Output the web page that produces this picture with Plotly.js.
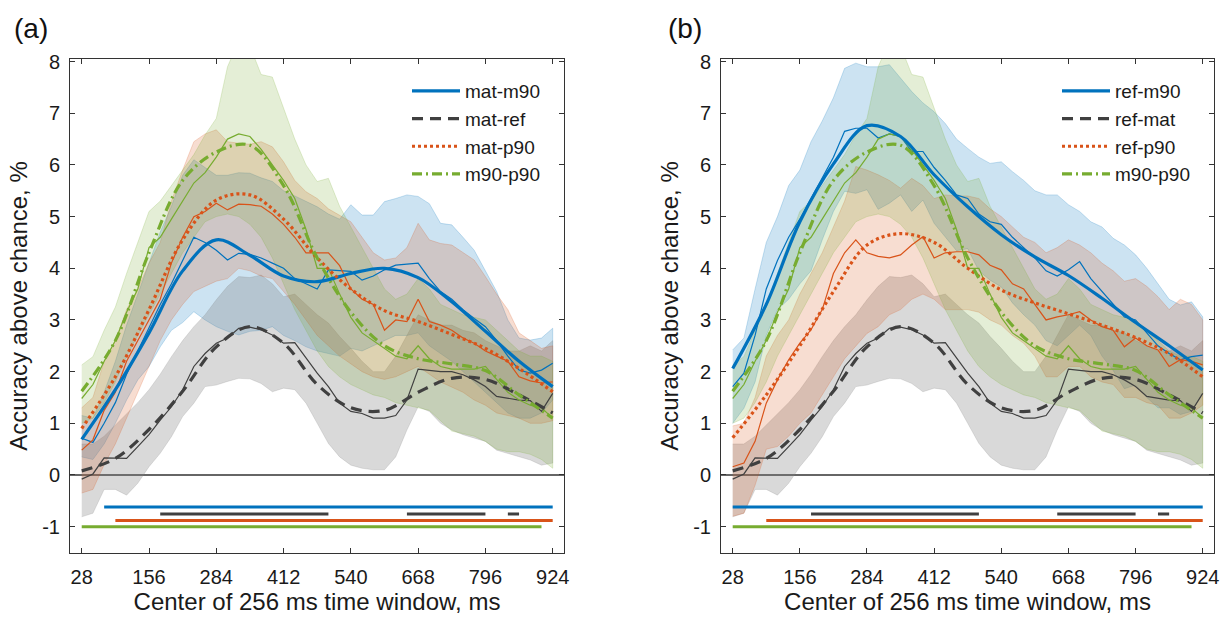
<!DOCTYPE html>
<html>
<head>
<meta charset="utf-8">
<script src="https://cdn.plot.ly/plotly-3.0.1.min.js"></script>
<style>html,body{margin:0;padding:0;background:#fff;}#chart{width:1230px;height:621px;}</style>
</head>
<body>
<div id="chart"></div>
<script>
// ---------- Data ----------
// window centres (ms), raw series sampled every 21.33 ms
const xRaw = [28,49.33,70.67,92,113.33,134.67,156,177.33,198.67,220,241.33,262.67,284,305.33,326.67,348,369.33,390.67,412,433.33,454.67,476,497.33,518.67,540,561.33,582.67,604,625.33,646.67,668,689.33,710.67,732,753.33,774.67,796,817.33,838.67,860,881.33,902.67,924];
// smoothed curves sampled every 64 ms
const xSmooth = [28,92,156,220,284,348,412,476,540,604,668,732,796,860,924];
const xTicks = [28,156,284,412,540,668,796,924];
const yTicks = [-1,0,1,2,3,4,5,6,7,8];

// shared series (identical in both panels)
const grayRaw = [-0.08,0.02,0.33,0.33,0.32,0.55,0.78,1.06,1.32,1.65,2.1,2.35,2.55,2.65,2.84,2.86,2.81,2.71,2.55,2.56,2.26,1.97,1.71,1.39,1.23,1.19,1.10,1.10,1.15,1.45,2.05,2.02,2.0,2.0,1.94,1.84,1.71,1.52,1.48,1.45,1.44,1.23,1.58];
const graySmooth = [0.08,0.32,0.88,1.62,2.48,2.87,2.55,1.75,1.3,1.25,1.6,1.87,1.85,1.55,1.2];
const grayUpper = [0.6,0.6,0.75,0.97,1.19,1.4,1.65,1.95,2.29,2.6,2.87,3.1,3.39,3.65,3.84,3.82,3.87,3.7,3.45,3.5,3.3,3.1,2.94,2.68,2.45,2.2,2.0,2.0,2.3,2.7,3.1,3.0,2.9,2.9,2.8,2.75,2.6,2.5,2.4,2.4,2.5,2.4,2.6];
const grayLower = [-0.81,-0.74,-0.28,-0.28,-0.39,-0.16,0.16,0.42,0.74,1.13,1.39,1.71,1.74,1.81,1.87,1.86,1.77,1.61,1.68,1.65,1.39,1.0,0.61,0.35,0.19,0.13,0.1,0.1,0.35,0.87,1.32,1.23,1.0,0.87,0.78,0.71,0.65,0.48,0.42,0.35,0.29,0.19,0.23];

const greenRaw = [1.48,1.75,2.2,2.6,3.15,3.6,4.4,4.6,4.95,5.3,5.65,5.85,6.15,6.5,6.6,6.55,6.3,6.0,5.7,5.35,4.75,4.0,4.0,3.5,3.05,2.75,2.6,2.45,2.3,2.25,2.5,2.25,2.1,2.05,2.05,2.05,2.1,1.85,1.6,1.45,1.35,1.3,1.1];
const greenSmooth = [1.62,2.6,4.3,5.7,6.25,6.38,5.6,4.2,3.15,2.5,2.25,2.15,2.02,1.55,1.1];
const greenUpper = [2.13,2.29,2.8,3.25,3.9,4.5,5.1,5.3,5.6,5.9,6.2,6.58,6.9,7.9,8.4,8.3,7.75,7.7,7.1,6.5,6.0,5.68,5.74,5.2,4.8,4.4,4.0,3.6,3.4,3.5,3.8,3.6,3.3,3.2,3.1,3.05,3.0,2.8,2.6,2.4,2.3,2.3,2.2];
const greenLower = [1.0,1.1,1.4,1.8,2.3,2.7,3.1,3.5,3.9,4.3,4.6,4.9,5.0,5.05,5.0,4.85,4.6,4.2,3.7,3.2,2.8,2.4,2.1,1.9,1.75,1.65,1.55,1.5,1.4,1.35,1.3,1.25,1.05,0.85,0.8,0.75,0.65,0.5,0.45,0.45,0.4,0.3,0.13];

// panel (a)
const blueRawA = [0.71,0.63,1.0,1.4,1.95,2.4,2.85,3.3,3.7,4.15,4.6,4.5,4.35,4.16,4.29,4.27,4.2,4.1,4.0,3.8,3.7,3.6,3.97,3.95,3.94,3.77,3.85,3.97,4.06,4.08,4.1,3.8,3.55,3.4,3.2,3.03,2.87,2.6,2.3,2.03,1.97,2.03,2.16];
const blueSmoothA = [0.69,1.65,2.75,3.95,4.55,4.25,3.85,3.74,3.9,4.0,3.82,3.35,2.78,2.2,1.71];
const blueUpperA = [1.15,1.1,1.6,2.2,2.9,3.5,4.1,4.7,5.2,5.8,6.1,5.95,5.8,5.8,5.85,5.84,5.75,5.68,5.5,5.4,5.3,5.19,5.05,4.95,5.23,5.03,5.03,5.29,5.35,5.42,5.39,5.25,4.87,4.84,4.6,4.35,3.95,3.55,3.0,2.65,2.61,2.65,2.84];
const blueLowerA = [0.35,0.3,0.6,1.0,1.45,1.84,2.1,2.48,2.8,2.95,3.16,3.0,2.87,2.78,2.71,2.78,2.8,2.87,2.7,2.6,2.48,2.4,2.35,2.3,2.45,2.4,2.5,2.6,2.7,2.7,2.75,2.5,2.35,2.2,2.0,1.8,1.6,1.4,1.2,1.1,1.1,1.2,1.45];

const orangeRawA = [0.48,0.68,1.25,1.6,2.2,2.6,3.0,3.4,4.1,4.6,5.0,5.1,5.26,5.13,5.24,5.23,5.2,5.05,4.85,4.6,4.3,4.3,4.3,4.05,3.6,3.4,3.3,2.8,3.0,2.97,3.4,2.97,2.9,2.8,2.65,2.55,2.4,2.3,2.2,1.9,1.82,1.78,1.8];
const orangeSmoothA = [0.9,1.9,3.2,4.55,5.32,5.42,4.95,4.2,3.6,3.18,2.97,2.72,2.45,2.06,1.61];
const orangeUpperA = [1.3,1.5,2.2,2.6,3.2,3.6,4.1,4.5,5.3,5.9,6.45,6.6,6.68,6.45,6.42,6.4,6.45,6.35,6.06,5.7,5.48,5.35,5.15,5.03,4.9,4.6,4.3,4.16,4.2,4.4,4.87,4.55,4.48,4.45,4.3,4.16,3.84,3.5,3.2,2.75,2.6,2.45,2.5];
const orangeLowerA = [-0.35,-0.28,0.2,0.6,1.1,1.6,2.1,2.6,3.0,3.3,3.55,3.65,3.75,3.8,4.0,3.95,3.85,3.8,3.55,3.3,3.0,2.7,2.5,2.3,2.15,2.0,1.9,1.85,1.9,2.0,2.1,1.95,1.8,1.7,1.6,1.45,1.35,1.2,1.15,1.1,1.0,1.0,1.05];

// panel (b)
const blueRawB = [1.71,1.97,2.7,3.6,4.15,4.6,4.95,5.35,5.75,6.15,6.65,6.71,6.71,6.52,6.6,6.55,6.26,6.26,5.95,5.7,5.42,5.35,5.05,4.9,4.85,4.6,4.4,4.2,3.95,3.85,3.97,4.13,3.8,3.55,3.3,3.06,3.0,2.75,2.5,2.35,2.23,2.29,2.32];
const blueSmoothB = [2.06,3.3,4.9,6.02,6.76,6.55,5.81,5.19,4.65,4.22,3.86,3.42,2.95,2.5,2.03];
const blueUpperB = [2.42,2.65,3.6,4.5,5.0,5.6,5.9,6.45,6.85,7.3,7.87,7.97,7.9,7.9,7.94,7.68,7.42,7.2,7.03,6.8,6.5,6.32,6.15,6.03,6.06,5.87,5.7,5.5,5.42,5.42,5.23,5.1,4.9,4.8,4.58,4.45,4.26,4.0,3.7,3.4,3.29,3.35,3.06];
const blueLowerB = [1.0,1.29,1.8,2.7,3.2,3.4,3.7,3.95,4.55,5.1,5.49,5.45,5.52,5.14,5.26,5.42,5.1,5.32,4.87,4.6,4.34,4.38,3.95,3.77,3.64,3.33,3.1,2.9,2.6,2.5,2.7,2.9,2.7,2.3,2.02,1.67,1.74,1.5,1.3,1.3,1.17,1.23,1.58];

const orangeRawB = [0.16,0.23,0.65,1.39,1.84,2.23,2.55,2.81,3.2,3.9,4.3,4.55,4.3,4.23,4.2,4.26,4.45,4.61,4.2,4.3,4.32,4.32,4.26,4.06,3.97,3.7,3.6,3.3,3.0,3.06,3.1,3.16,3.0,2.87,2.8,2.48,2.65,2.5,2.42,2.1,2.23,2.2,2.13];
const orangeSmoothB = [0.72,1.55,2.5,3.55,4.45,4.67,4.5,4.0,3.58,3.33,3.12,2.9,2.66,2.35,1.9];
const orangeUpperB = [0.95,1.0,1.5,2.3,2.7,3.0,3.5,3.9,4.3,4.8,5.3,5.97,5.9,5.81,5.7,5.55,5.74,5.6,5.35,5.42,5.4,5.4,5.35,5.15,5.0,4.8,4.6,4.5,4.3,4.4,4.55,4.45,4.3,4.1,3.95,3.75,3.8,3.65,3.45,3.2,3.4,3.3,3.0];
const orangeLowerB = [-0.8,-0.74,-0.2,0.5,0.55,0.75,1.0,1.2,1.55,1.9,2.25,2.5,2.74,2.87,3.1,3.2,3.4,3.5,3.4,3.2,3.2,3.2,3.15,3.0,2.9,2.7,2.55,2.3,1.9,1.9,2.1,2.1,1.9,1.8,1.75,1.5,1.5,1.4,1.35,1.1,1.1,1.2,1.35];

// significance bars: [start, end] in ms, and their levels
const sigLevel = {blue: -0.62, gray: -0.755, orange: -0.88, green: -1.0};
const sigBlueA = [[70.67, 924]];
const sigBlueB = [[28, 924]];
const sigGray = [[177.33, 497.33], [646.67, 796], [838.67, 860]];
const sigOrange = [[92, 924]];
const sigGreen = [[28, 902.67]];

const namesA = ['mat-m90', 'mat-ref', 'mat-p90', 'm90-p90'];
const namesB = ['ref-m90', 'ref-mat', 'ref-p90', 'm90-p90'];

// ---------- Styling ----------
const FONT = 'Arial, "Liberation Sans", Helvetica, sans-serif';
const C = {blue: [0,114,189], gray: [64,64,64], orange: [217,83,25], green: [119,172,48]};
const BANDC = {blue: [0,114,189], gray: [128,128,128], orange: [217,83,25], green: [119,172,48]};
const BANDA = {blue: 0.2, gray: 0.3, orange: 0.2, green: 0.2};
const rgba = (c, a) => `rgba(${c[0]},${c[1]},${c[2]},${a})`;
const DASH = {blue: 'solid', gray: '11px,7px', orange: '3px,3px', green: '10px,4px,2px,4px'};

function bandTrace(up, lo, key, xa, ya) {
  return {x: xRaw.concat(xRaw.slice().reverse()), y: up.concat(lo.slice().reverse()),
    type: 'scatter', mode: 'lines', fill: 'toself', fillcolor: rgba(BANDC[key], BANDA[key]),
    line: {color: rgba(BANDC[key], 0.3), width: 0.7}, hoverinfo: 'skip', showlegend: false, xaxis: xa, yaxis: ya};
}
function rawTrace(y, key, xa, ya) {
  return {x: xRaw, y: y, type: 'scatter', mode: 'lines', line: {color: rgba(C[key], 1), width: 1.2},
    showlegend: false, xaxis: xa, yaxis: ya};
}
function smoothTrace(y, key, name, xa, ya, leg, rank) {
  return {x: xSmooth, y: y, type: 'scatter', mode: 'lines', name: name,
    line: {color: rgba(C[key], 1), width: 3.2, dash: DASH[key], shape: 'spline', smoothing: 1},
    xaxis: xa, yaxis: ya, legend: leg, legendrank: rank};
}
function sigTrace(segs, key, xa, ya) {
  const x = [], y = [];
  segs.forEach(s => { x.push(s[0], s[1], null); y.push(sigLevel[key], sigLevel[key], null); });
  return {x: x, y: y, type: 'scatter', mode: 'lines', line: {color: rgba(C[key], 1), width: 3},
    showlegend: false, hoverinfo: 'skip', xaxis: xa, yaxis: ya};
}

function panel(xa, ya, leg, names, blueR, blueS, blueU, blueL, orR, orS, orU, orL, sigBlue) {
  return [
    bandTrace(blueU, blueL, 'blue', xa, ya),
    bandTrace(grayUpper, grayLower, 'gray', xa, ya),
    bandTrace(orU, orL, 'orange', xa, ya),
    bandTrace(greenUpper, greenLower, 'green', xa, ya),
    rawTrace(blueR, 'blue', xa, ya),
    rawTrace(grayRaw, 'gray', xa, ya),
    rawTrace(orR, 'orange', xa, ya),
    rawTrace(greenRaw, 'green', xa, ya),
    smoothTrace(blueS, 'blue', names[0], xa, ya, leg, 1),
    smoothTrace(graySmooth, 'gray', names[1], xa, ya, leg, 2),
    smoothTrace(orS, 'orange', names[2], xa, ya, leg, 3),
    smoothTrace(greenSmooth, 'green', names[3], xa, ya, leg, 4),
    sigTrace(sigBlue, 'blue', xa, ya),
    sigTrace(sigGray, 'gray', xa, ya),
    sigTrace(sigOrange, 'orange', xa, ya),
    sigTrace(sigGreen, 'green', xa, ya)
  ];
}

const data = [].concat(
  panel('x', 'y', 'legend', namesA, blueRawA, blueSmoothA, blueUpperA, blueLowerA, orangeRawA, orangeSmoothA, orangeUpperA, orangeLowerA, sigBlueA),
  panel('x2', 'y2', 'legend2', namesB, blueRawB, blueSmoothB, blueUpperB, blueLowerB, orangeRawB, orangeSmoothB, orangeUpperB, orangeLowerB, sigBlueB)
);

const W = 1230, H = 621;
const xAxisBase = {
  range: [5.7, 945.5], tickmode: 'array', tickvals: xTicks, ticktext: xTicks.map(String),
  ticks: 'inside', ticklen: 5, tickwidth: 1, tickcolor: '#333', showline: true, linecolor: '#333', linewidth: 1,
  mirror: 'ticks', showgrid: false, zeroline: false, automargin: false,
  tickfont: {family: FONT, size: 20, color: '#1a1a1a'}, ticklabelstandoff: 6,
  title: {text: 'Center of 256 ms time window, ms', font: {family: FONT, size: 24, color: '#1a1a1a'}, standoff: 2}
};
const yAxisBase = {
  range: [-1.51, 8.05], tickmode: 'array', tickvals: yTicks, ticktext: yTicks.map(String),
  ticks: 'inside', ticklen: 5, tickwidth: 1, tickcolor: '#333', showline: true, linecolor: '#333', linewidth: 1,
  mirror: 'ticks', showgrid: false, zeroline: true, zerolinecolor: '#666', zerolinewidth: 1.3, automargin: false,
  tickfont: {family: FONT, size: 20, color: '#1a1a1a'}, ticklabelstandoff: 5,
  domain: [1 - 553 / H, 1 - 59 / H],
  title: {text: 'Accuracy above chance, %', font: {family: FONT, size: 24, color: '#1a1a1a'}, standoff: 7}
};
const legendBase = {
  bgcolor: 'rgba(0,0,0,0)', borderwidth: 0, xanchor: 'left', yanchor: 'top', y: 1 - 72 / H,
  font: {family: FONT, size: 19, color: '#1a1a1a'}, itemwidth: 48, tracegroupgap: 0, itemclick: false
};

const layout = {
  width: W, height: H, paper_bgcolor: '#fff', plot_bgcolor: 'rgba(0,0,0,0)',
  margin: {l: 0, r: 0, t: 0, b: 0}, font: {family: FONT},
  xaxis: Object.assign({}, xAxisBase, {domain: [70 / W, 564 / W], anchor: 'y'}),
  yaxis: Object.assign({}, yAxisBase, {anchor: 'x'}),
  xaxis2: Object.assign({}, xAxisBase, {domain: [721 / W, 1214 / W], anchor: 'y2'}),
  yaxis2: Object.assign({}, yAxisBase, {anchor: 'x2'}),
  legend: Object.assign({}, legendBase, {x: 407 / W}),
  legend2: Object.assign({}, legendBase, {x: 1057 / W}),
  showlegend: true,
  annotations: [
    {text: '(a)', xref: 'paper', yref: 'paper', x: 12 / W, y: 1 - 29 / H, xanchor: 'left', yanchor: 'middle', showarrow: false, font: {family: FONT, size: 28, color: '#111'}},
    {text: '(b)', xref: 'paper', yref: 'paper', x: 666 / W, y: 1 - 29 / H, xanchor: 'left', yanchor: 'middle', showarrow: false, font: {family: FONT, size: 28, color: '#111'}}
  ]
};

Plotly.newPlot('chart', data, layout, {displayModeBar: false, staticPlot: true});
</script>
</body>
</html>
